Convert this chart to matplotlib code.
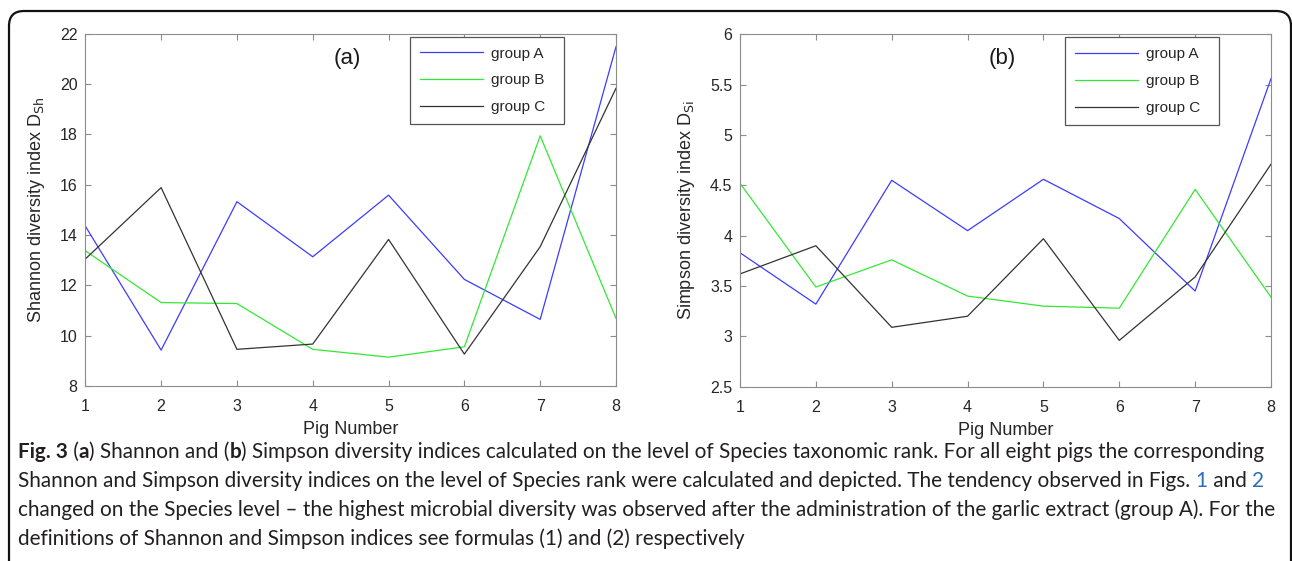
import numpy as np
import matplotlib
matplotlib.use("Agg")
import matplotlib.pyplot as plt
from matplotlib.patches import FancyBboxPatch
from matplotlib.text import Annotation

# data
pigs = [1, 2, 3, 4, 5, 6, 7, 8]
groups = ["group A", "group B", "group C"]
shannon_a = [14.35, 9.42, 15.32, 13.13, 15.58, 12.23, 10.64, 21.48]
shannon_b = [13.37, 11.31, 11.27, 9.45, 9.14, 9.55, 17.94, 10.68]
shannon_c = [13.04, 15.88, 9.45, 9.66, 13.82, 9.26, 13.53, 19.83]
simpson_a = [3.83, 3.32, 4.55, 4.05, 4.56, 4.17, 3.45, 5.56]
simpson_b = [4.52, 3.49, 3.76, 3.40, 3.30, 3.28, 4.46, 3.39]
simpson_c = [3.62, 3.90, 3.09, 3.20, 3.97, 2.96, 3.59, 4.71]

colors = ["#3c3cff", "#33e833", "#333333"]
W, H = 1292, 561

plt.rcParams["font.family"] = ["Liberation Sans", "DejaVu Sans"]

fig = plt.figure(figsize=(W / 100, H / 100), dpi=100)


def px_axes(x0, y0, x1, y1):
    # pixel box (top-left origin) -> figure fraction
    return fig.add_axes([x0 / W, 1 - y1 / H, (x1 - x0) / W, (y1 - y0) / H])


def style_axes(ax):
    for s in ax.spines.values():
        s.set_color("#8c8c8c")
        s.set_linewidth(0.8)
    ax.tick_params(direction="in", length=4, width=0.8, color="#8c8c8c",
                   labelcolor="#262626", labelsize=11.5, top=True, right=True)
    ax.tick_params(axis="x", pad=9.5)
    ax.tick_params(axis="y", pad=5.5)


def draw_panel(ax, series, ylim, yticks, ylabel, tag, tag_y):
    for vals, c, name in zip(series, colors, groups):
        ax.plot(pigs, vals, color=c, lw=0.9, label=name + "  ")
    ax.set_xlim(1, 8)
    ax.set_ylim(*ylim)
    ax.set_xticks(pigs)
    ax.set_yticks(yticks)
    ax.set_yticklabels([f"{v:g}" for v in yticks])
    ax.set_xlabel("Pig Number", fontsize=13, color="#262626", labelpad=5)
    ax.set_ylabel(ylabel, fontsize=13, color="#262626", labelpad=9)
    ax.text(4.46, tag_y, tag, fontsize=16, color="#1a1a1a", ha="center", va="center")
    leg = ax.legend(loc="upper left", bbox_to_anchor=(0.612, 0.992), fontsize=11,
                    handlelength=4.1, labelspacing=0.84, borderpad=0.66,
                    handletextpad=0.55, fancybox=False, framealpha=1,
                    edgecolor="#555555", borderaxespad=0)
    leg.get_frame().set_linewidth(0.9)
    for t in leg.get_texts():
        t.set_color("#262626")
    style_axes(ax)


ax1 = px_axes(85.3, 33.7, 616, 385.8)
draw_panel(ax1, [shannon_a, shannon_b, shannon_c], (8, 22), np.arange(8, 23, 2),
           r"Shannon diversity index D$_{\mathrm{Sh}}$", "(a)", 21.03)

ax2 = px_axes(740, 34.3, 1271, 386.7)
draw_panel(ax2, [simpson_a, simpson_b, simpson_c], (2.5, 6), np.arange(2.5, 6.01, 0.5),
           r"Simpson diversity index D$_{\mathrm{Si}}$", "(b)", 5.76)

# rounded frame around figure + caption
frame = FancyBboxPatch((9 / 100, -0.3), (1291 - 9) / 100, (550 + 30) / 100,
                       boxstyle="round,pad=0,rounding_size=0.15",
                       transform=fig.dpi_scale_trans, fill=False,
                       edgecolor="#111111", linewidth=1.6)
fig.add_artist(frame)

cap_font = ["Lato", "DejaVu Sans"]
cap_color = "#231f20"
link = "#2a6ebb"
lines = [
    [("Fig. 3", "bold", cap_color), (" (", "normal", cap_color), ("a", "bold", cap_color),
     (") Shannon and (", "normal", cap_color), ("b", "bold", cap_color),
     (") Simpson diversity indices calculated on the level of Species taxonomic rank. "
      "For all eight pigs the corresponding", "normal", cap_color)],
    [("Shannon and Simpson diversity indices on the level of Species rank were calculated "
      "and depicted. The tendency observed in Figs. ", "normal", cap_color),
     ("1", "normal", link), (" and ", "normal", cap_color), ("2", "normal", link)],
    [("changed on the Species level \u2013 the highest microbial diversity was observed after "
      "the administration of the garlic extract (group A). For the", "normal", cap_color)],
    [("definitions of Shannon and Simpson indices see formulas (1) and (2) respectively",
      "normal", cap_color)],
]
line_y = [452, 481, 510, 539]
cap_texts = []
first_line = []
for i, (parts, y) in enumerate(zip(lines, line_y)):
    prev = None
    for txt, weight, col in parts:
        kw = dict(fontsize=13, family=cap_font, weight=weight, color=col, va="center", ha="left")
        if prev is None:
            prev = fig.text(18 / W, 1 - y / H, txt, **kw)
        else:
            prev = fig.add_artist(Annotation(txt, xy=(1, 0.5), xycoords=prev, **kw))
        cap_texts.append(prev)
        if i == 0:
            first_line.append(prev)

# scale caption so the first line spans the same width as in the figure
fig.canvas.draw()
r = fig.canvas.get_renderer()
x_left = first_line[0].get_window_extent(r).x0
x_right = first_line[-1].get_window_extent(r).x1
scale = (1262 - 18) / (x_right - x_left)
for t in cap_texts:
    t.set_fontsize(13 * scale)

fig.savefig("out.png", dpi=100)
